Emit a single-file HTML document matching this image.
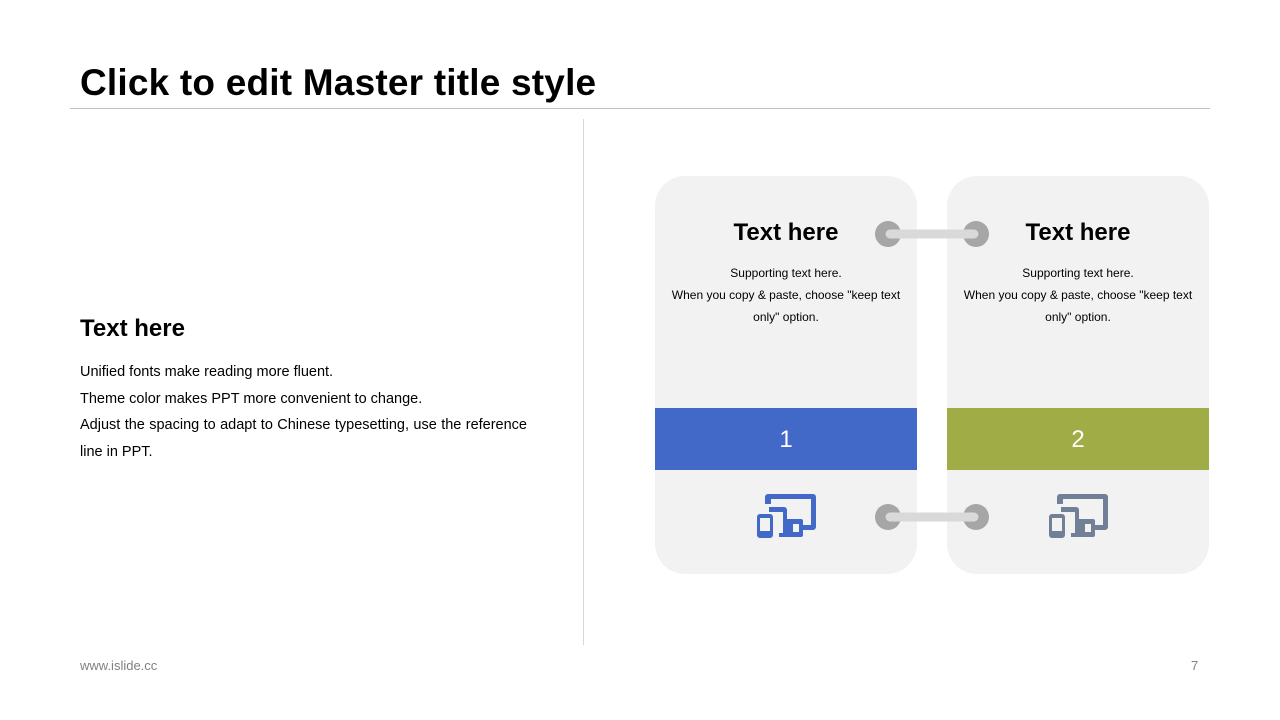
<!DOCTYPE html>
<html><head><meta charset="utf-8"><style>
body{margin:0;width:1280px;height:720px;background:#fff;position:relative;overflow:hidden;font-family:"Liberation Sans",Arial,sans-serif}
.a{position:absolute}
.card{position:absolute;top:176px;width:262px;height:398px;background:#f2f2f2;border-radius:30px;overflow:hidden}
.card h3{position:absolute;top:43px;left:0;width:100%;text-align:center;margin:0;font-size:24px;font-weight:bold;color:#000}
.card p{position:absolute;top:86px;left:10px;width:242px;text-align:center;margin:0;font-size:12px;line-height:22px;color:#000}
.band{position:absolute;top:232px;left:0;width:100%;height:62px;color:#fff;font-size:24px;text-align:center;line-height:64px}
</style></head><body>
<div class="a" style="left:80px;top:62px;font-size:37px;letter-spacing:0.2px;font-weight:bold;color:#000">Click to edit Master title style</div>
<div class="a" style="left:70px;top:108px;width:1140px;height:1px;background:#bfbfbf"></div>
<div class="a" style="left:583px;top:119px;width:1px;height:526px;background:#d9d9d9"></div>
<div class="a" style="left:80px;top:315px;font-size:24px;font-weight:bold">Text here</div>
<div class="a" style="left:80px;top:359px;width:447px;font-size:14.5px;line-height:26.5px;text-align:justify">Unified fonts make reading more fluent.<br>Theme color makes PPT more convenient to change.<br>Adjust the spacing to adapt to Chinese typesetting, use the reference line in PPT.</div>
<div class="card" style="left:655px"><h3>Text here</h3><p>Supporting text here.<br>When you copy &amp; paste, choose "keep text only" option.</p><div class="band" style="background:#4268c8">1</div></div>
<div class="card" style="left:947px"><h3>Text here</h3><p>Supporting text here.<br>When you copy &amp; paste, choose "keep text only" option.</p><div class="band" style="background:#a0ac45">2</div></div>
<svg class="a" style="left:0;top:0" width="1280" height="720">
<g fill="#a6a6a6"><circle cx="888" cy="234" r="13"/><circle cx="976" cy="234" r="13"/><circle cx="888" cy="517" r="13"/><circle cx="976" cy="517" r="13"/></g>
<g stroke="#d9d9d9" stroke-width="9" stroke-linecap="round"><line x1="890" y1="234" x2="974" y2="234"/><line x1="890" y1="517" x2="974" y2="517"/></g>
<defs><g id="ic">
<path d="M11 0 h45 a3 3 0 0 1 3 3 v30 a3 3 0 0 1 -3 3 h-13 v-5 h11 v-26 h-40 v5 h-6 v-7 a3 3 0 0 1 3 -3z"/>
<path d="M30 25 h14 a2 2 0 0 1 2 2 v14 a2 2 0 0 1 -2 2 h-14z M36 30 v8 h6 v-8z"/>
<path d="M10 13 h17 a3 3 0 0 1 3 3 v27 h-8 v-4 h4 v-21 h-14 v-5z"/>
<path d="M3 20 h10 a3 3 0 0 1 3 3 v18 a3 3 0 0 1 -3 3 h-10 a3 3 0 0 1 -3 -3 v-18 a3 3 0 0 1 3 -3z M3 24 v13 h10 v-13z"/>
</g></defs>
<use href="#ic" x="757" y="494" fill="#4268c8"/>
<use href="#ic" x="1049" y="494" fill="#718096"/>
</svg>
<div class="a" style="left:80px;top:658px;font-size:13px;color:#808080">www.islide.cc</div>
<div class="a" style="left:1191px;top:658px;font-size:13px;color:#808080">7</div>
</body></html>
